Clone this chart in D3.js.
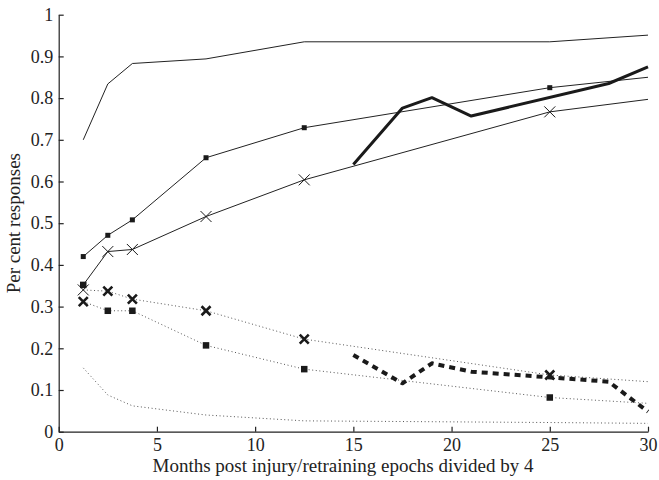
<!DOCTYPE html>
<html>
<head>
<meta charset="utf-8">
<script src="https://cdn.jsdelivr.net/npm/d3@7"></script>
<style>
  body { margin: 0; background: #fff; }
  svg text { font-family: "Liberation Serif", "Times New Roman", serif; fill: #222; }
</style>
</head>
<body>
<div id="chart"></div>
<script>
// data
var months = [1.25, 2.5, 3.75, 7.5, 12.5, 25, 30];
var topLine = [0.70, 0.834, 0.883, 0.894, 0.935, 0.935, 0.951];
var squareLine = [0.42, 0.471, 0.508, 0.657, 0.729, 0.825, 0.85];
var crossLine = [0.352, 0.432, 0.437, 0.516, 0.604, 0.767, 0.797];
var crossDotted = [0.34, 0.337, 0.318, 0.29, 0.222, 0.136, 0.12];
var squareDotted = [0.312, 0.29, 0.29, 0.207, 0.15, 0.082, 0.068];
var plainDotted = [0.153, 0.088, 0.062, 0.04, 0.026, 0.022, 0.02];

var lateMonths = [15, 17.5, 19, 21, 28, 30];
var thickSolid = [0.641, 0.776, 0.801, 0.757, 0.835, 0.875];
var thickDashed = [0.184, 0.116, 0.164, 0.144, 0.12, 0.048];

var xTicks = [0, 5, 10, 15, 20, 25, 30];
var yTicks = [0, 0.1, 0.2, 0.3, 0.4, 0.5, 0.6, 0.7, 0.8, 0.9, 1];

// size and margins
var svgWidth = 659;
var svgHeight = 480;
var margin = { top: 14.7, right: 11, bottom: 48.3, left: 58.7 };
var width = svgWidth - margin.left - margin.right;
var height = svgHeight - margin.top - margin.bottom;

var svg = d3.select("#chart")
    .append("svg")
    .attr("width", svgWidth)
    .attr("height", svgHeight);

var chart = svg.append("g")
    .attr("transform", `translate(${margin.left}, ${margin.top})`);

var x = d3.scaleLinear().domain([0, 30]).range([0, width]);
var y = d3.scaleLinear().domain([0, 1]).range([height, 0]);

// series styles (marker shown on every point except the one at 30)
var series = [
    { xs: months, ys: topLine, w: 1, dash: null, color: "#222", marker: null, first: null },
    { xs: months, ys: squareLine, w: 1, dash: null, color: "#222", marker: "sq", first: "sq" },
    { xs: months, ys: crossLine, w: 1, dash: null, color: "#222", marker: "x", first: "bsq" },
    { xs: months, ys: crossDotted, w: 1, dash: "1,2.6", color: "#555", marker: "bx", first: "x" },
    { xs: months, ys: squareDotted, w: 1, dash: "1,2.6", color: "#555", marker: "bsq", first: "bx" },
    { xs: months, ys: plainDotted, w: 1, dash: "1,2.6", color: "#555", marker: null, first: null },
    { xs: lateMonths, ys: thickSolid, w: 3, dash: null, color: "#1a1a1a", marker: null, first: null },
    { xs: lateMonths, ys: thickDashed, w: 4, dash: "6,5", color: "#1a1a1a", marker: null, first: null }
];

var line = d3.line()
    .x(d => x(d[0]))
    .y(d => y(d[1]));

series.forEach(function (s) {
    var pts = s.xs.map((m, i) => [m, s.ys[i]]);
    chart.append("path")
        .datum(pts)
        .attr("fill", "none")
        .attr("stroke", s.color)
        .attr("stroke-width", s.w)
        .attr("stroke-dasharray", s.dash)
        .attr("stroke-linejoin", "round")
        .attr("d", line);

    pts.forEach(function (p, i) {
        if (p[0] === 30) return;
        var kind = i === 0 ? s.first : s.marker;
        if (!kind) return;
        drawMarker(kind, x(p[0]), y(p[1]));
    });
});

function drawMarker(kind, cx, cy) {
    if (kind === "sq" || kind === "bsq") {
        var sz = kind === "sq" ? 5 : 6.5;
        chart.append("rect")
            .attr("x", cx - sz / 2)
            .attr("y", cy - sz / 2)
            .attr("width", sz)
            .attr("height", sz)
            .attr("fill", "#1a1a1a");
    } else {
        var r = kind === "x" ? 5.5 : 4.5;
        chart.append("path")
            .attr("d", `M${cx - r},${cy - r}L${cx + r},${cy + r}M${cx - r},${cy + r}L${cx + r},${cy - r}`)
            .attr("stroke", "#1a1a1a")
            .attr("stroke-width", kind === "x" ? 1 : 2.6)
            .attr("fill", "none");
    }
}

// axes with inward ticks
var bottomAxis = d3.axisBottom(x)
    .tickValues(xTicks)
    .tickSizeInner(-5)
    .tickSizeOuter(0)
    .tickPadding(6.5)
    .tickFormat(d3.format("d"));
var leftAxis = d3.axisLeft(y)
    .tickValues(yTicks)
    .tickSizeInner(-5)
    .tickSizeOuter(0)
    .tickPadding(5.5)
    .tickFormat(d => (d === 0 || d === 1) ? String(d) : d.toFixed(1));

var gx = chart.append("g")
    .attr("transform", `translate(0, ${height})`)
    .call(bottomAxis);
var gy = chart.append("g")
    .call(leftAxis);

[gx, gy].forEach(function (g) {
    g.selectAll("path, line").attr("stroke", "#222").attr("stroke-width", 1.2);
    g.selectAll("text")
        .style("font-family", "'Liberation Serif', 'Times New Roman', serif")
        .style("font-size", "18px")
        .attr("fill", "#222");
});

// axis labels
chart.append("text")
    .attr("x", 343 - margin.left)
    .attr("y", 472 - margin.top)
    .attr("text-anchor", "middle")
    .style("font-size", "19px")
    .text("Months post injury/retraining epochs divided by 4");

chart.append("text")
    .attr("transform", `translate(${19.5 - margin.left}, ${height / 2}) rotate(-90)`)
    .attr("text-anchor", "middle")
    .style("font-size", "19px")
    .text("Per cent responses");
</script>
</body>
</html>
